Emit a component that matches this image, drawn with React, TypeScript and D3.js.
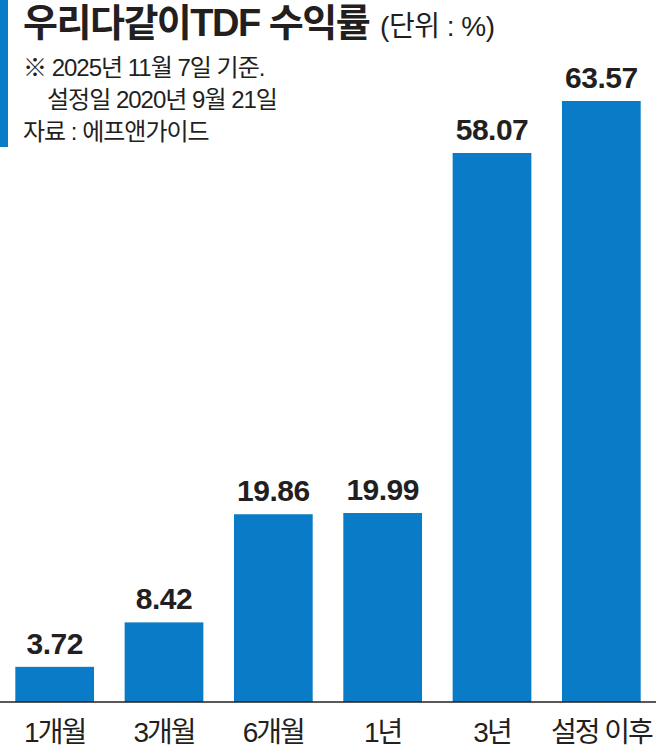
import React from "react";
import * as d3 from "d3";

const categories: string[] = ["1개월", "3개월", "6개월", "1년", "3년", "설정 이후"];
const returns: number[] = [3.72, 8.42, 19.86, 19.99, 58.07, 63.57];
const valueLabels: string[] = ["3.72", "8.42", "19.86", "19.99", "58.07", "63.57"];
const titleMain = "우리다같이TDF 수익률";
const titleUnit = "(단위 : %)";
const noteLines: string[] = ["※ 2025년 11월 7일 기준.", "설정일 2020년 9월 21일", "자료 : 에프앤가이드"];

const W = 656;
const H = 750;
const BASE = 702;
const TOP = 101;
const BLUE = "#0a7bc6";
const INK = "#231f20";
const KR = "'Liberation Sans', 'Noto Sans CJK KR', sans-serif";
const NUM = "'Liberation Sans', Arial, sans-serif";

export default function App() {
  const x = d3.scaleBand<string>().domain(categories).range([0, W]).paddingInner(0.28).paddingOuter(0.14);
  const y = d3.scaleLinear().domain([0, d3.max(returns) as number]).range([BASE, TOP]);

  return (
    <svg width={W} height={H} viewBox={`0 0 ${W} ${H}`} style={{ position: "absolute", left: 0, top: 0, display: "block", background: "#fff" }}>
      <rect x={0} y={0} width={8} height={147} fill={BLUE} />
      <text x={23} y={36} fontFamily={KR} fontWeight={700} fontSize={38} fill={INK} letterSpacing={-1.5}>
        {titleMain}
        <tspan dx={11} fontWeight={400} fontSize={28} letterSpacing={-0.5}>{titleUnit}</tspan>
      </text>
      <text x={23} y={76} fontFamily={KR} fontSize={24} fill={INK} letterSpacing={-1}>{noteLines[0]}</text>
      <text x={47} y={108} fontFamily={KR} fontSize={24} fill={INK} letterSpacing={-1}>{noteLines[1]}</text>
      <text x={23} y={140} fontFamily={KR} fontSize={24} fill={INK} letterSpacing={-1}>{noteLines[2]}</text>

      {categories.map((c, i) => {
        const bx = x(c) as number;
        const bw = x.bandwidth();
        const top = y(returns[i]);
        return (
          <g key={c}>
            <rect x={bx} y={top} width={bw} height={BASE - top} fill={BLUE} />
            <text x={bx + bw / 2} y={top - 13} textAnchor="middle" fontFamily={NUM} fontWeight={700} fontSize={30} fill={INK} letterSpacing={-0.5}>
              {valueLabels[i]}
            </text>
            <text x={bx + bw / 2} y={742} textAnchor="middle" fontFamily={KR} fontSize={28} fill={INK} letterSpacing={-2}>
              {c}
            </text>
          </g>
        );
      })}
      <line x1={0} x2={W} y1={BASE} y2={BASE} stroke={INK} strokeWidth={1.5} />
    </svg>
  );
}
